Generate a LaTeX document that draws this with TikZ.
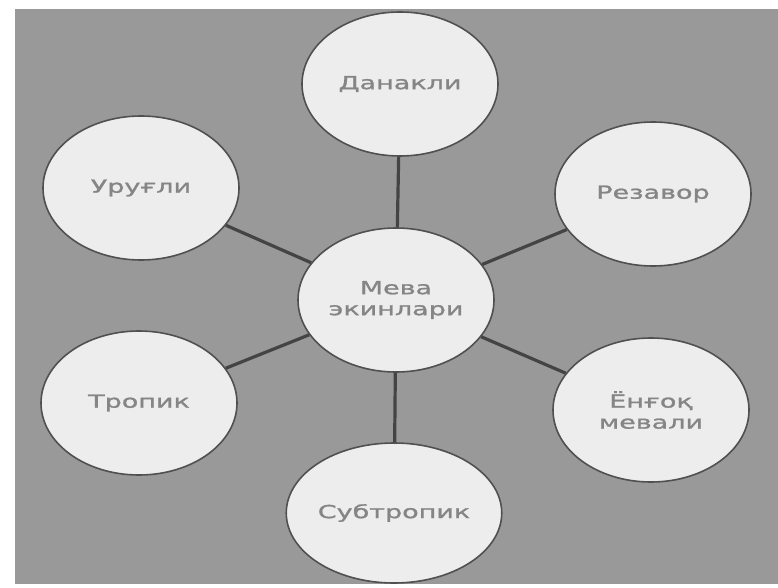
\documentclass[tikz,border=0pt]{standalone}
\usepackage{fontspec}
\newfontfamily\widefont[FakeStretch=1.5,FakeBold=1.3]{DejaVu Sans}
\usetikzlibrary{shapes.geometric}
\definecolor{bggray}{HTML}{999999}
\definecolor{ellfill}{HTML}{EDEDED}
\definecolor{ellline}{HTML}{505050}
\definecolor{txtgray}{HTML}{858585}
\tikzset{
  bubble/.style={ellipse, draw=ellline, line width=1.6pt, fill=ellfill,
    minimum width=196pt, minimum height=144pt, inner sep=0pt,
    align=center, text=txtgray, font=\widefont\fontsize{18}{21}\selectfont},
  link/.style={draw=ellline!85!black, line width=3.2pt}
}
\begin{document}
\begin{tikzpicture}[x=1pt,y=-1pt]
\useasboundingbox (0,0) rectangle (778,588);
\fill[white] (0,0) rectangle (778,588);
\fill[bggray] (15,9) rectangle (778,584);
\node[bubble] (mid) at (396,300) {Мева\\экинлари};
\node[bubble] (dan) at (400,84) {Данакли};
\node[bubble] (uru) at (141,188) {Уруғли};
\node[bubble] (rez) at (653,194) {Резавор};
\node[bubble] (tro) at (139,403) {Тропик};
\node[bubble] (yon) at (651,410) {Ёнғоқ\\мевали};
\node[bubble, minimum height=140pt] (sub) at (394,513) {Субтропик};
\draw[link] (mid) -- (dan);
\draw[link] (mid) -- (uru);
\draw[link] (mid) -- (rez);
\draw[link] (mid) -- (tro);
\draw[link] (mid) -- (yon);
\draw[link] (mid) -- (sub);
\end{tikzpicture}
\end{document}
